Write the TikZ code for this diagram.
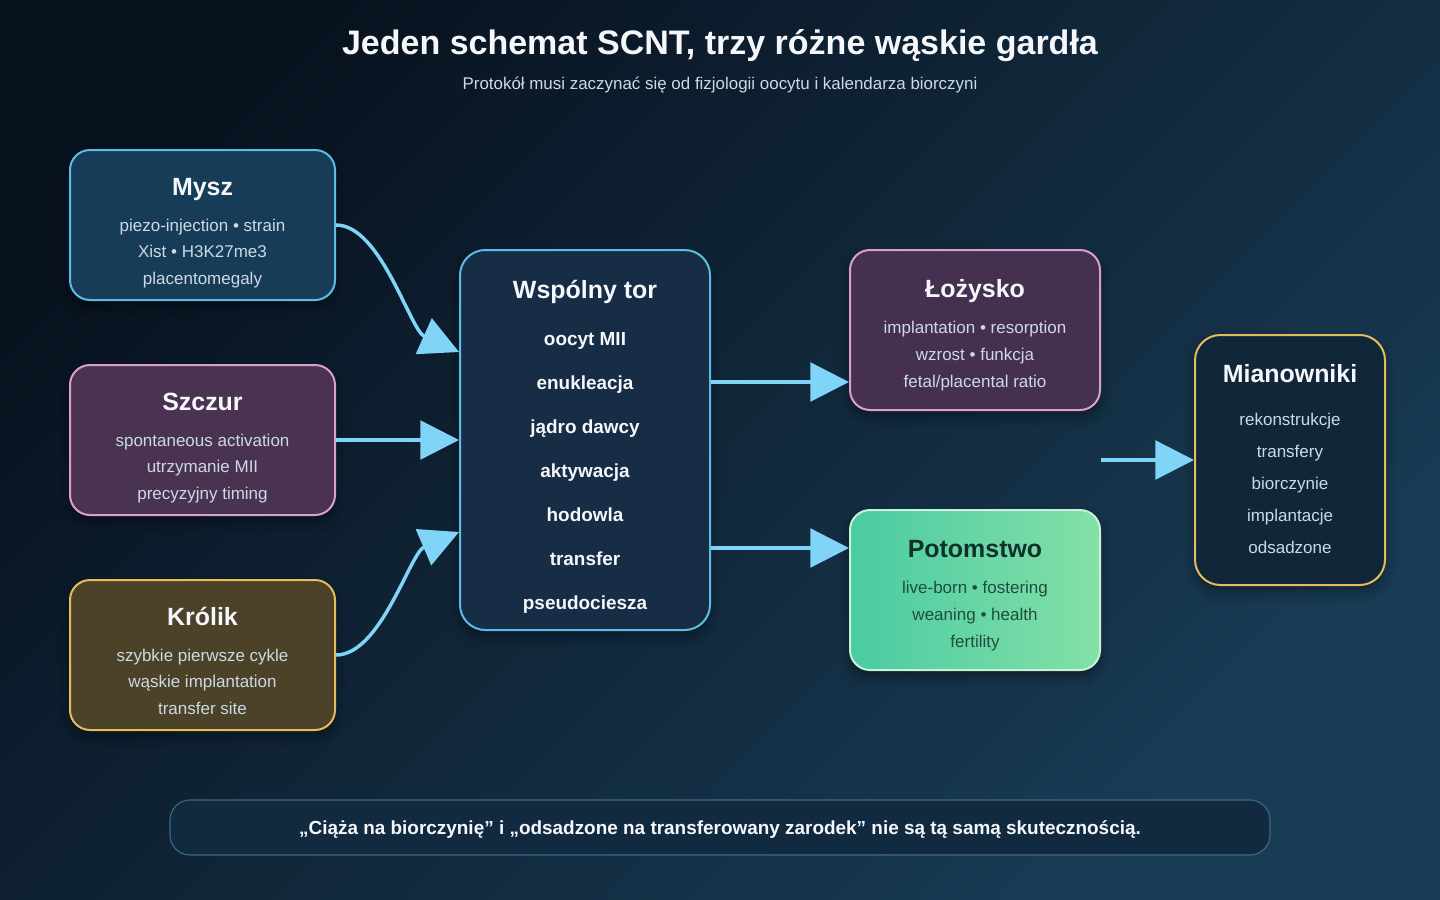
\documentclass[tikz,border=0pt]{standalone}
\usepackage{fontspec}
\setmainfont{Liberation Sans}
\usetikzlibrary{arrows.meta,shadows.blur}
\definecolor{bgA}{HTML}{08121F}
\definecolor{bgB}{HTML}{193C55}
\definecolor{myszF}{HTML}{173C58}
\definecolor{blueB}{HTML}{5BBDE6}
\definecolor{szczF}{HTML}{4A3350}
\definecolor{pinkB}{HTML}{D9A0CC}
\definecolor{krolF}{HTML}{4B4228}
\definecolor{goldB}{HTML}{E5BB5C}
\definecolor{wspF}{HTML}{172C45}
\definecolor{lozF}{HTML}{45314F}
\definecolor{potL}{HTML}{4ACBA2}
\definecolor{potR}{HTML}{84E0A7}
\definecolor{potB}{HTML}{C6F2D6}
\definecolor{potT}{HTML}{10302A}
\definecolor{potS}{HTML}{1F4D40}
\definecolor{mianF}{HTML}{10273A}
\definecolor{noteF}{HTML}{112A40}
\definecolor{noteB}{HTML}{3D6A85}
\definecolor{bodyT}{HTML}{CDD9E6}
\definecolor{titleT}{HTML}{F5F7FA}
\definecolor{arrowC}{HTML}{7FD4F8}
\begin{document}
\begin{tikzpicture}[x=0.75pt,y=-0.75pt,
  card/.style={rectangle, rounded corners=15pt, line width=1.5pt, inner sep=0pt,
    blur shadow={shadow xshift=0pt, shadow yshift=-5pt, shadow blur radius=8pt, shadow opacity=40}},
  side/.style={card, minimum width=198.75pt, minimum height=112.5pt},
  mid/.style={card, minimum width=187.5pt, minimum height=120pt},
  ttl/.style={anchor=base, font=\bfseries\fontsize{18.7pt}{22pt}\selectfont, text=titleT},
  txt/.style={anchor=base, font=\fontsize{12.75pt}{15pt}\selectfont, text=bodyT},
  itm/.style={anchor=base, font=\bfseries\fontsize{14.2pt}{16pt}\selectfont, text=titleT},
  arr/.style={draw=arrowC, line width=2.6pt, -{Triangle[length=29pt,width=29pt]}}
]
\useasboundingbox (0,0) rectangle (1440,900);
\shade[top color=bgA, bottom color=bgB, shading angle=45] (0,0) rectangle (1440,900);

% title
\node[anchor=base, font=\bfseries\fontsize{25.5pt}{30pt}\selectfont, text=titleT] (title) at (720,54) {Jeden schemat SCNT, trzy różne wąskie gardła};
\node[anchor=base, font=\fontsize{12.7pt}{15pt}\selectfont, text=bodyT] (sub) at (720,89) {Protokół musi zaczynać się od fizjologii oocytu i kalendarza biorczyni};

% left cards
\node[side, fill=myszF, draw=blueB] (mysz) at (202.5,225) {};
\node[ttl] (myszT) at (202.5,195) {Mysz};
\node[txt] (myszA) at (202.5,231) {piezo-injection • strain};
\node[txt] (myszB) at (202.5,257.5) {Xist • H3K27me3};
\node[txt] (myszC) at (202.5,284) {placentomegaly};

\node[side, fill=szczF, draw=pinkB] (szcz) at (202.5,440) {};
\node[ttl] (szczT) at (202.5,410) {Szczur};
\node[txt] (szczA) at (202.5,446) {spontaneous activation};
\node[txt] (szczB) at (202.5,472.5) {utrzymanie MII};
\node[txt] (szczC) at (202.5,499) {precyzyjny timing};

\node[side, fill=krolF, draw=goldB] (krol) at (202.5,655) {};
\node[ttl] (krolT) at (202.5,625) {Królik};
\node[txt] (krolA) at (202.5,661) {szybkie pierwsze cykle};
\node[txt] (krolB) at (202.5,687.5) {wąskie implantation};
\node[txt] (krolC) at (202.5,714) {transfer site};

% center
\node[card, rounded corners=19pt, minimum width=187.5pt, minimum height=285pt, fill=wspF, draw=blueB] (wsp) at (585,440) {};
\node[ttl] (wspT) at (585,298) {Wspólny tor};
\node[itm] (w1) at (585,345) {oocyt MII};
\node[itm] (w2) at (585,389) {enukleacja};
\node[itm] (w3) at (585,433) {jądro dawcy};
\node[itm] (w4) at (585,477) {aktywacja};
\node[itm] (w5) at (585,521) {hodowla};
\node[itm] (w6) at (585,565) {transfer};
\node[itm] (w7) at (585,609) {pseudociesza};

% right middle cards
\node[mid, fill=lozF, draw=pinkB] (loz) at (975,330) {};
\node[ttl] (lozT) at (975,297) {Łożysko};
\node[txt] (lozA) at (975,333) {implantation • resorption};
\node[txt] (lozB) at (975,360) {wzrost • funkcja};
\node[txt] (lozC) at (975,387) {fetal/placental ratio};

\node[mid, left color=potL, right color=potR, draw=potB] (pot) at (975,590) {};
\node[ttl, text=potT] (potT) at (975,557) {Potomstwo};
\node[txt, text=potS] (potA) at (975,593) {live-born • fostering};
\node[txt, text=potS] (potB) at (975,620) {weaning • health};
\node[txt, text=potS] (potC) at (975,647) {fertility};

% Mianowniki
\node[card, rounded corners=19pt, minimum width=142.5pt, minimum height=187.5pt, fill=mianF, draw=goldB] (mian) at (1290,460) {};
\node[ttl] (mianT) at (1290,382) {Mianowniki};
\node[txt] (m1) at (1290,425) {rekonstrukcje};
\node[txt] (m2) at (1290,457) {transfery};
\node[txt] (m3) at (1290,489) {biorczynie};
\node[txt] (m4) at (1290,521) {implantacje};
\node[txt] (m5) at (1290,553) {odsadzone};

% bottom note
\node[rectangle, rounded corners=15pt, minimum width=825pt, minimum height=41.25pt, fill=noteF, draw=noteB, line width=0.8pt] (note) at (720,827.5) {};
\node[anchor=base, font=\bfseries\fontsize{14.2pt}{16pt}\selectfont, text=titleT] (noteT) at (720,834) {„Ciąża na biorczynię” i „odsadzone na transferowany zarodek” nie są tą samą skutecznością.};

% connectors
\coordinate (yA) at (0,352);
\coordinate (yB) at (0,532);
\coordinate (yC) at (0,382);
\coordinate (yD) at (0,548);
\coordinate (free) at (loz.east |- mian.west);
\draw[arr] (mysz.east) .. controls +(45,0) and (410,330) .. (wsp.west |- yA);
\draw[arr] (szcz.east) -- (wsp.west);
\draw[arr] (krol.east) .. controls +(45,0) and (410,553) .. (wsp.west |- yB);
\draw[arr] (wsp.east |- yC) -- (loz.west |- yC);
\draw[arr] (wsp.east |- yD) -- (pot.west |- yD);
\draw[arr] (free) -- (mian.west);
\end{tikzpicture}
\end{document}
